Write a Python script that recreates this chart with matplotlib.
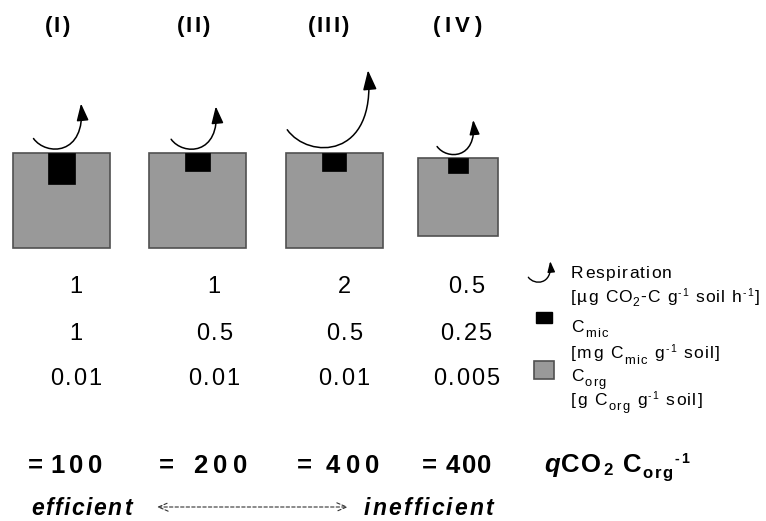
import matplotlib.pyplot as plt
from matplotlib.patches import Rectangle, FancyArrowPatch
from matplotlib.path import Path

plt.rcParams["font.family"] = "Liberation Sans"

# data
panels = ["(I)", "(II)", "(III)", "(IV)"]
respiration = [1, 1, 2, 0.5]
c_mic = [1, 0.5, 0.5, 0.25]
c_org = [0.01, 0.01, 0.01, 0.005]
resp_labels = ["1", "1", "2", "0.5"]
cmic_labels = ["1", "0.5", "0.5", "0.25"]
corg_labels = ["0.01", "0.01", "0.01", "0.005"]

# layout (pixels, y downwards)
box_cx = [61, 197, 334, 458]
text_cx = [76, 214, 344, 466]
title_cx = [57, 193, 328, 457]
title_track = [2, 2, 2, 4.5]
soil_side = [97, 97, 97, 80]
soil_top = [153, 153, 153, 158]
mic_w = [27, 25, 24, 20]
mic_h = [31, 18, 18, 15]
arrow_size = [50, 47, 85, 38]
arrow_head = [13, 13, 15, 11]
eq_x = [28, 159, 297, 422]
num_x = [50, 193, 326, 446]
num_track = [4.5, 5.5, 5.5, 1.5]

gray = "#999999"
edge = "#505050"

fig = plt.figure(figsize=(7.66, 5.21), dpi=100)
ax = fig.add_axes([0, 0, 1, 1])
ax.set_xlim(0, 766)
ax.set_ylim(521, 0)
ax.axis("off")
renderer = fig.canvas.get_renderer()


def text_width(s, **kw):
    t = ax.text(0, 0, s + "|", **kw)
    w1 = t.get_window_extent(renderer).width
    t.remove()
    t = ax.text(0, 0, "|", **kw)
    w2 = t.get_window_extent(renderer).width
    t.remove()
    return w1 - w2


def spaced(x, y, segments, size, track, ha="left", **kw):
    # segments: (text, size scale, baseline shift px, extra props)
    items = []
    cur = 0
    for seg in segments:
        s, scale, dy = seg[:3]
        props = dict(kw, **(seg[3] if len(seg) > 3 else {}))
        fs = size * scale
        ws = [text_width(s[:i], fontsize=fs, **props) for i in range(len(s) + 1)]
        for i, ch in enumerate(s):
            items.append((cur + ws[i] + i * track, y + dy, ch, fs, props))
        cur += ws[-1] + len(s) * track
    total = cur - track
    x0 = x - total / 2 if ha == "center" else x
    for xo, yy, ch, fs, props in items:
        if ch != " ":
            ax.text(x0 + xo, yy, ch, fontsize=fs, ha="left", va="baseline", **props)


def resp_arrow(bx, by, s, head, lw=1.1):
    verts = [(bx - 0.55 * s, by - 0.25 * s), (bx - 0.3 * s, by + 0.1 * s),
             (bx + 0.5 * s, by + 0.1 * s), (bx + 0.4 * s, by - 0.95 * s)]
    path = Path(verts, [Path.MOVETO, Path.CURVE4, Path.CURVE4, Path.CURVE4])
    arr = FancyArrowPatch(path=path, arrowstyle="-|>,head_length=0.8,head_width=0.28",
                          mutation_scale=head, lw=lw, color="black",
                          shrinkA=0, shrinkB=0)
    ax.add_patch(arr)


for i in range(4):
    cx = box_cx[i]
    side = soil_side[i]
    ax.add_patch(Rectangle((cx - side / 2, soil_top[i]), side, side * 0.98,
                           facecolor=gray, edgecolor=edge, lw=1.2))
    ax.add_patch(Rectangle((cx - mic_w[i] / 2, soil_top[i]), mic_w[i], mic_h[i],
                           facecolor="black", edgecolor="black", lw=0.5))
    resp_arrow(cx, soil_top[i] - 2, arrow_size[i], arrow_head[i])

    spaced(title_cx[i], 32, [(panels[i], 1, 0)], 16, title_track[i],
           ha="center", fontweight="bold")
    spaced(text_cx[i], 293, [(resp_labels[i], 1, 0)], 17, 1.7, ha="center")
    spaced(text_cx[i], 340, [(cmic_labels[i], 1, 0)], 17, 1.7, ha="center")
    spaced(text_cx[i], 385, [(corg_labels[i], 1, 0)], 17, 1.7, ha="center")

    ratio = respiration[i] / c_mic[i] / c_org[i]
    ax.text(eq_x[i], 473, "=", fontsize=18.5, fontweight="bold",
            ha="left", va="baseline")
    spaced(num_x[i], 473, [(f"{ratio:.0f}", 1, 0)], 18.5, num_track[i],
           fontweight="bold")

spaced(544, 472, [("q", 1, 0, {"style": "italic"}), ("CO", 1, 0), ("2", 0.65, 3),
                  (" C", 1, 0), ("org", 0.65, 6), ("-1", 0.55, -9)],
       18.5, 1.6, fontweight="bold")

# efficiency scale
spaced(31, 515, [("efficient", 1, 0)], 16.5, 1.6, fontweight="bold", style="italic")
spaced(364, 515, [("inefficient", 1, 0)], 16.5, 2.1, fontweight="bold", style="italic")
ax.annotate("", xy=(348, 507), xytext=(157, 507),
            arrowprops=dict(arrowstyle="<->,head_length=0.7,head_width=0.3",
                            mutation_scale=10, linestyle=(0, (3, 2)), lw=0.8,
                            color="#333333", shrinkA=0, shrinkB=0))

# legend
resp_arrow(541, 283, 23, 8, lw=1.0)
spaced(571, 278, [("Respiration", 1, 0)], 12.5, 1.3)
spaced(571, 302, [("[µg CO", 1, 0), ("2", 0.7, 4), ("-C g", 1, 0), ("-1", 0.6, -6),
                  (" soil h", 1, 0), ("-1", 0.6, -6), ("]", 1, 0)], 12.5, 1.1)
ax.add_patch(Rectangle((536, 312), 16, 11, facecolor="black", edgecolor="black"))
spaced(571, 332, [("C", 1, 0), ("mic", 0.75, 5)], 12.5, 1.3)
spaced(571, 358, [("[mg C", 1, 0), ("mic", 0.75, 6), (" g", 1, 0), ("-1", 0.6, -6),
                  (" soil]", 1, 0)], 12.5, 1.3)
ax.add_patch(Rectangle((534, 361), 20, 18, facecolor=gray, edgecolor=edge, lw=1.2))
spaced(571, 381, [("C", 1, 0), ("org", 0.75, 5)], 12.5, 1.3)
spaced(571, 405, [("[g C", 1, 0), ("org", 0.75, 5), (" g", 1, 0), ("-1", 0.6, -6),
                  (" soil]", 1, 0)], 12.5, 1.3)

plt.savefig("out.png", dpi=100)
